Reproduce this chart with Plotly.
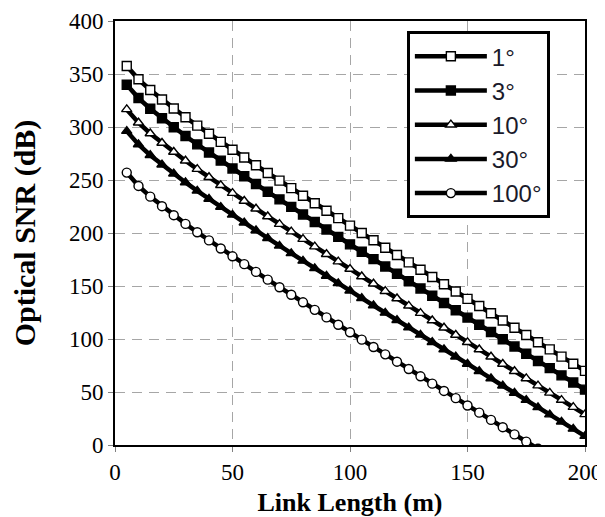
import plotly.graph_objects as go

link_length = [5, 10, 15, 20, 25, 30, 35, 40, 45, 50, 55, 60, 65, 70, 75, 80, 85, 90, 95, 100,
               105, 110, 115, 120, 125, 130, 135, 140, 145, 150, 155, 160, 165, 170, 175, 180,
               185, 190, 195, 200]

snr_1deg = [357.6, 345.0, 334.9, 325.9, 317.4, 309.2, 301.3, 293.6, 286.0, 278.6,
            271.2, 263.9, 256.6, 249.4, 242.3, 235.2, 228.1, 221.0, 214.0, 207.0,
            200.0, 193.1, 186.1, 179.2, 172.3, 165.4, 158.5, 151.6, 144.8, 137.9,
            131.1, 124.3, 117.4, 110.6, 103.8, 97.0, 90.2, 83.4, 76.7, 69.9]

snr_3deg = [339.9, 327.3, 317.2, 308.2, 299.7, 291.5, 283.6, 275.9, 268.3, 260.9,
            253.5, 246.2, 238.9, 231.7, 224.6, 217.5, 210.4, 203.3, 196.3, 189.3,
            182.3, 175.4, 168.4, 161.5, 154.6, 147.7, 140.8, 133.9, 127.1, 120.2,
            113.4, 106.6, 99.7, 92.9, 86.1, 79.3, 72.5, 65.7, 59.0, 52.2]

snr_10deg = [316.6, 304.0, 293.9, 284.9, 276.4, 268.2, 260.3, 252.6, 245.0, 237.6,
             230.2, 222.9, 215.6, 208.4, 201.3, 194.2, 187.1, 180.0, 173.0, 166.0,
             159.0, 152.1, 145.1, 138.2, 131.3, 124.4, 117.5, 110.6, 103.8, 96.9,
             90.1, 83.3, 76.4, 69.6, 62.8, 56.0, 49.2, 42.4, 35.7, 28.9]

snr_30deg = [296.1, 283.5, 273.4, 264.4, 255.9, 247.7, 239.8, 232.1, 224.5, 217.1,
             209.7, 202.4, 195.1, 187.9, 180.8, 173.7, 166.6, 159.5, 152.5, 145.5,
             138.5, 131.6, 124.6, 117.7, 110.8, 103.9, 97.0, 90.1, 83.3, 76.4,
             69.6, 62.8, 55.9, 49.1, 42.3, 35.5, 28.7, 21.9, 15.2, 8.4]

snr_100deg = [257.0, 244.4, 234.3, 225.3, 216.8, 208.6, 200.7, 193.0, 185.4, 178.0,
              170.6, 163.3, 156.0, 148.8, 141.7, 134.6, 127.5, 120.4, 113.4, 106.4,
              99.4, 92.5, 85.5, 78.6, 71.7, 64.8, 57.9, 51.0, 44.2, 37.3,
              30.5, 23.7, 16.8, 10.0, 3.2, -3.6]

series_names = ["1°", "3°", "10°", "30°", "100°"]
series_values = [snr_1deg, snr_3deg, snr_10deg, snr_30deg, snr_100deg]
marker_symbols = ["square", "square", "triangle-up", "triangle-up", "circle"]
marker_fills = ["white", "black", "white", "black", "white"]
marker_sizes = [9, 9, 9, 9, 9]

x_ticks = [0, 50, 100, 150, 200]
y_ticks = [0, 50, 100, 150, 200, 250, 300, 350, 400]

fig = go.Figure()
for i, (name, vals) in enumerate(zip(series_names, series_values)):
    fig.add_trace(go.Scatter(
        x=link_length[:len(vals)], y=vals, name=name, mode="lines+markers",
        legendgroup=f"g{i}",
        line=dict(color="black", width=4.5),
        marker=dict(symbol=marker_symbols[i], size=marker_sizes[i], color=marker_fills[i],
                    line=dict(color="black", width=1.4)),
    ))

serif = "Liberation Serif, Times New Roman, serif"
# the page body has an 8px default margin, so the figure is sized to fit the window
fig.update_layout(
    width=597, height=509,
    margin=dict(l=107, r=20, t=13, b=72),
    paper_bgcolor="white", plot_bgcolor="white",
    showlegend=True,
    legend=dict(
        x=0.621, y=0.976, xanchor="left", yanchor="top",
        bgcolor="white", bordercolor="black", borderwidth=3,
        font=dict(family="Liberation Sans", size=24, color="#1a1a2a"),
        itemwidth=72, tracegroupgap=0, entrywidth=156,
    ),
    xaxis=dict(
        range=[0, 200], tickvals=x_ticks, ticks="outside", ticklen=5, tickcolor="#808080",
        showline=True, linecolor="black", linewidth=2, mirror=True,
        showgrid=True, gridcolor="#a6a6a6", gridwidth=1.3, griddash="10px,7px",
        zeroline=False, automargin=False,
        tickfont=dict(family=serif, size=23, color="black"),
        title=dict(text="Link Length (m)", standoff=12,
                   font=dict(family=serif, size=26, color="black", weight="bold")),
    ),
    yaxis=dict(
        range=[0, 400], tickvals=y_ticks, ticks="outside", ticklen=5, tickcolor="#808080",
        showline=True, linecolor="black", linewidth=2, mirror=True,
        showgrid=True, gridcolor="#a6a6a6", gridwidth=1.3, griddash="10px,7px",
        zeroline=False, automargin=False,
        tickfont=dict(family=serif, size=23, color="black"),
        title=dict(text="Optical SNR (dB)", standoff=24,
                   font=dict(family=serif, size=30, color="black", weight="bold")),
    ),
)

fig.write_html("out.html")
